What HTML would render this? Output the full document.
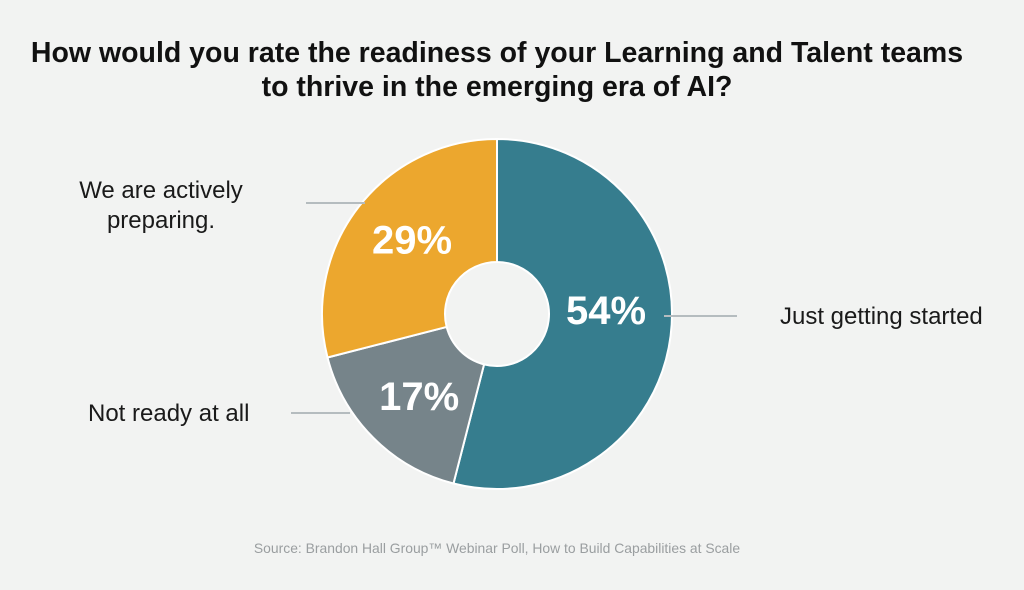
<!DOCTYPE html>
<html><head><meta charset="utf-8">
<style>
html,body{margin:0;padding:0;background:#f2f3f2;}
svg{display:block;font-family:"Liberation Sans",Arial,sans-serif;}
</style></head>
<body>
<svg id="chart" width="1024" height="590" viewBox="0 0 1024 590">
<rect width="1024" height="590" fill="#f2f3f2"/>
<text x="497" y="62" text-anchor="middle" font-size="28.5" font-weight="bold" fill="#111">How would you rate the readiness of your Learning and Talent teams</text>
<text x="497" y="96" text-anchor="middle" font-size="28.5" font-weight="bold" fill="#111">to thrive in the emerging era of AI?</text>
<g id="slices"></g>
<g id="labels"></g>
<text x="497" y="553" text-anchor="middle" font-size="13.9" fill="#9a9ea0">Source: Brandon Hall Group™ Webinar Poll, How to Build Capabilities at Scale</text>
</svg>
<script>
const categories = ["Just getting started", "Not ready at all", "We are actively preparing."];
const values = [54, 17, 29];
const valueLabels = ["54%", "17%", "29%"];
const colors = ["#367d8e", "#76848a", "#eca72e"];
const labelNudgeX = [-8, 0, 2];
const labelNudgeY = [-19, 4, -7];

const NS = "http://www.w3.org/2000/svg";
const cx = 497, cy = 314, R = 175, r = 52;
const total = values.reduce((a, b) => a + b, 0);
const sg = document.getElementById("slices");
const lg = document.getElementById("labels");
function pt(rad, a) { return [cx + rad * Math.sin(a), cy - rad * Math.cos(a)]; }
let start = 0;
values.forEach((v, i) => {
  const a0 = start, a1 = start + v / total * 2 * Math.PI;
  start = a1;
  const large = (a1 - a0) > Math.PI ? 1 : 0;
  const [x0, y0] = pt(R, a0), [x1, y1] = pt(R, a1);
  const [ix1, iy1] = pt(r, a1), [ix0, iy0] = pt(r, a0);
  const p = document.createElementNS(NS, "path");
  p.setAttribute("d", `M${x0},${y0} A${R},${R} 0 ${large} 1 ${x1},${y1} L${ix1},${iy1} A${r},${r} 0 ${large} 0 ${ix0},${iy0} Z`);
  p.setAttribute("fill", colors[i]);
  p.setAttribute("stroke", "#ffffff");
  p.setAttribute("stroke-width", "2");
  
  
  sg.appendChild(p);
  const mid = (a0 + a1) / 2;
  const [lx, ly] = pt(i === 0 ? 118 : 110, mid);
  const t = document.createElementNS(NS, "text");
  t.setAttribute("x", lx + labelNudgeX[i]); t.setAttribute("y", ly + 14 + labelNudgeY[i]);
  t.setAttribute("text-anchor", "middle");
  t.setAttribute("font-size", "40"); t.setAttribute("font-weight", "bold");
  t.setAttribute("fill", "#ffffff");
  t.textContent = valueLabels[i];
  
  
  lg.appendChild(t);
});
function line(x1, y1, x2, y2, name) {
  const l = document.createElementNS(NS, "line");
  l.setAttribute("x1", x1); l.setAttribute("y1", y1); l.setAttribute("x2", x2); l.setAttribute("y2", y2);
  l.setAttribute("stroke", "#b5bcbf"); l.setAttribute("stroke-width", "2");
  
  
  lg.appendChild(l);
}
function label(x, y, txt, anchor, name) {
  const t = document.createElementNS(NS, "text");
  t.setAttribute("x", x); t.setAttribute("y", y);
  t.setAttribute("text-anchor", anchor);
  t.setAttribute("font-size", "24"); t.setAttribute("fill", "#1a1a1a");
  t.textContent = txt;
  
  
  lg.appendChild(t);
}
line(664, 316, 737, 316, 'leader-line-just-getting-started');
line(291, 413, 350, 413, 'leader-line-not-ready');
line(306, 203, 365, 203, 'leader-line-actively-preparing');
label(780, 324, categories[0], "start", 'category-label-just-getting-started');
label(88, 421, categories[1], "start", 'category-label-not-ready');
label(161, 198, "We are actively", "middle", 'category-label-actively-preparing-line-1');
label(161, 228, "preparing.", "middle", 'category-label-actively-preparing-line-2');
</script>
</body></html>
